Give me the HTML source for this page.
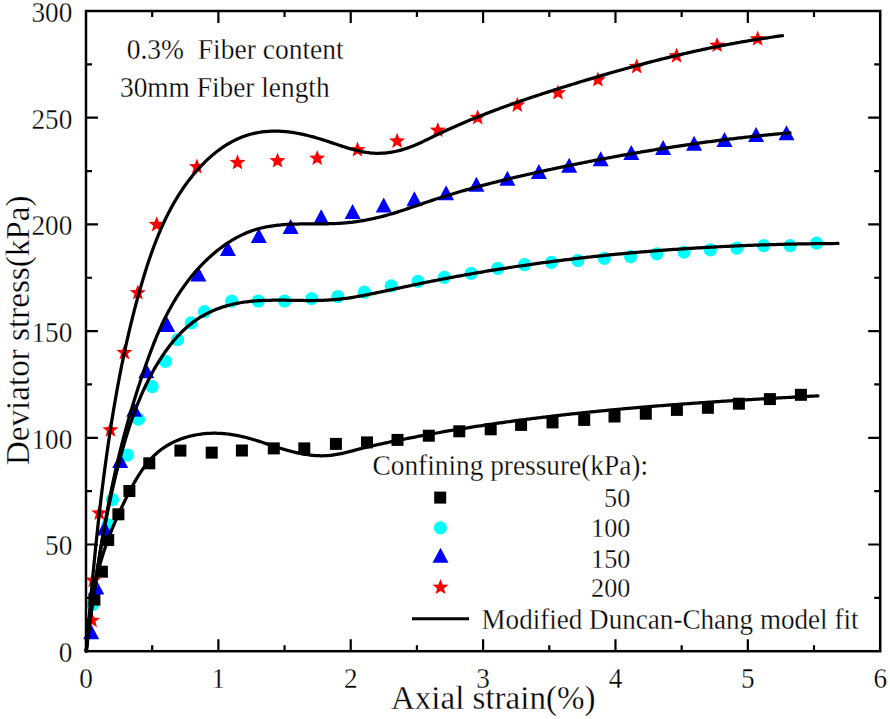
<!DOCTYPE html>
<html><head><meta charset="utf-8"><style>
html,body{margin:0;padding:0;background:#fff;width:890px;height:719px;overflow:hidden}
svg{display:block}
</style></head><body>
<svg width="890" height="719" viewBox="0 0 890 719">
<rect width="890" height="719" fill="#fff"/>
<g fill="#00ffff"><circle cx="92.50" cy="604.60" r="6.6"/><circle cx="108.00" cy="524.80" r="6.6"/><circle cx="112.50" cy="499.60" r="6.6"/><circle cx="127.30" cy="455.00" r="6.6"/><circle cx="138.40" cy="419.20" r="6.6"/><circle cx="152.20" cy="386.70" r="6.6"/><circle cx="165.50" cy="361.30" r="6.6"/><circle cx="177.60" cy="339.60" r="6.6"/><circle cx="191.20" cy="322.90" r="6.6"/><circle cx="204.50" cy="311.70" r="6.6"/><circle cx="231.70" cy="301.10" r="6.6"/><circle cx="258.30" cy="301.00" r="6.6"/><circle cx="284.60" cy="301.00" r="6.6"/><circle cx="311.70" cy="298.70" r="6.6"/><circle cx="337.80" cy="296.50" r="6.6"/><circle cx="364.40" cy="292.20" r="6.6"/><circle cx="391.20" cy="285.90" r="6.6"/><circle cx="418.00" cy="281.30" r="6.6"/><circle cx="444.40" cy="277.40" r="6.6"/><circle cx="471.20" cy="273.40" r="6.6"/><circle cx="497.70" cy="268.40" r="6.6"/><circle cx="524.50" cy="264.60" r="6.6"/><circle cx="551.40" cy="262.30" r="6.6"/><circle cx="577.90" cy="260.50" r="6.6"/><circle cx="604.30" cy="258.30" r="6.6"/><circle cx="630.60" cy="256.60" r="6.6"/><circle cx="656.80" cy="253.90" r="6.6"/><circle cx="684.00" cy="252.10" r="6.6"/><circle cx="710.30" cy="249.90" r="6.6"/><circle cx="736.90" cy="248.10" r="6.6"/><circle cx="763.70" cy="245.70" r="6.6"/><circle cx="790.10" cy="245.70" r="6.6"/><circle cx="816.60" cy="243.10" r="6.6"/></g>
<g fill="#000"><rect x="88.40" y="593.60" width="12.0" height="12.0"/><rect x="95.90" y="565.70" width="12.0" height="12.0"/><rect x="102.20" y="534.00" width="12.0" height="12.0"/><rect x="112.40" y="508.30" width="12.0" height="12.0"/><rect x="123.40" y="485.00" width="12.0" height="12.0"/><rect x="143.30" y="457.30" width="12.0" height="12.0"/><rect x="174.40" y="444.60" width="12.0" height="12.0"/><rect x="205.70" y="446.60" width="12.0" height="12.0"/><rect x="235.90" y="444.50" width="12.0" height="12.0"/><rect x="267.80" y="442.40" width="12.0" height="12.0"/><rect x="298.30" y="442.40" width="12.0" height="12.0"/><rect x="329.90" y="437.90" width="12.0" height="12.0"/><rect x="361.00" y="436.40" width="12.0" height="12.0"/><rect x="391.50" y="433.90" width="12.0" height="12.0"/><rect x="422.80" y="429.70" width="12.0" height="12.0"/><rect x="453.30" y="425.30" width="12.0" height="12.0"/><rect x="484.70" y="423.30" width="12.0" height="12.0"/><rect x="515.10" y="418.90" width="12.0" height="12.0"/><rect x="546.50" y="416.40" width="12.0" height="12.0"/><rect x="578.20" y="413.90" width="12.0" height="12.0"/><rect x="608.50" y="410.50" width="12.0" height="12.0"/><rect x="639.80" y="407.70" width="12.0" height="12.0"/><rect x="670.90" y="403.90" width="12.0" height="12.0"/><rect x="701.90" y="401.80" width="12.0" height="12.0"/><rect x="732.90" y="397.70" width="12.0" height="12.0"/><rect x="763.90" y="393.10" width="12.0" height="12.0"/><rect x="794.90" y="388.80" width="12.0" height="12.0"/></g>
<g fill="#0000ff"><polygon points="91.20,624.30 99.20,639.30 83.20,639.30"/><polygon points="96.30,579.50 104.30,594.50 88.30,594.50"/><polygon points="104.50,520.50 112.50,535.50 96.50,535.50"/><polygon points="120.20,453.00 128.20,468.00 112.20,468.00"/><polygon points="134.20,401.70 142.20,416.70 126.20,416.70"/><polygon points="146.30,363.20 154.30,378.20 138.30,378.20"/><polygon points="167.20,317.00 175.20,332.00 159.20,332.00"/><polygon points="198.40,266.40 206.40,281.40 190.40,281.40"/><polygon points="227.90,241.00 235.90,256.00 219.90,256.00"/><polygon points="258.80,228.00 266.80,243.00 250.80,243.00"/><polygon points="290.60,218.90 298.60,233.90 282.60,233.90"/><polygon points="321.20,209.30 329.20,224.30 313.20,224.30"/><polygon points="352.60,204.00 360.60,219.00 344.60,219.00"/><polygon points="383.70,197.50 391.70,212.50 375.70,212.50"/><polygon points="414.40,191.30 422.40,206.30 406.40,206.30"/><polygon points="446.10,185.30 454.10,200.30 438.10,200.30"/><polygon points="476.40,176.80 484.40,191.80 468.40,191.80"/><polygon points="507.40,170.70 515.40,185.70 499.40,185.70"/><polygon points="538.90,164.00 546.90,179.00 530.90,179.00"/><polygon points="569.20,157.70 577.20,172.70 561.20,172.70"/><polygon points="600.70,151.20 608.70,166.20 592.70,166.20"/><polygon points="631.30,144.90 639.30,159.90 623.30,159.90"/><polygon points="663.10,139.90 671.10,154.90 655.10,154.90"/><polygon points="694.10,135.80 702.10,150.80 686.10,150.80"/><polygon points="724.50,132.00 732.50,147.00 716.50,147.00"/><polygon points="756.10,127.00 764.10,142.00 748.10,142.00"/><polygon points="786.50,125.20 794.50,140.20 778.50,140.20"/></g>
<g fill="#ff0000"><polygon points="92.00,612.10 94.12,617.58 99.99,617.90 95.44,621.62 96.94,627.30 92.00,624.11 87.06,627.30 88.56,621.62 84.01,617.90 89.88,617.58"/><polygon points="93.20,572.00 95.32,577.48 101.19,577.80 96.64,581.52 98.14,587.20 93.20,584.01 88.26,587.20 89.76,581.52 85.21,577.80 91.08,577.48"/><polygon points="99.30,504.80 101.42,510.28 107.29,510.60 102.74,514.32 104.24,520.00 99.30,516.81 94.36,520.00 95.86,514.32 91.31,510.60 97.18,510.28"/><polygon points="110.40,421.60 112.52,427.08 118.39,427.40 113.84,431.12 115.34,436.80 110.40,433.61 105.46,436.80 106.96,431.12 102.41,427.40 108.28,427.08"/><polygon points="124.40,344.30 126.52,349.78 132.39,350.10 127.84,353.82 129.34,359.50 124.40,356.31 119.46,359.50 120.96,353.82 116.41,350.10 122.28,349.78"/><polygon points="137.80,284.40 139.92,289.88 145.79,290.20 141.24,293.92 142.74,299.60 137.80,296.41 132.86,299.60 134.36,293.92 129.81,290.20 135.68,289.88"/><polygon points="156.70,216.20 158.82,221.68 164.69,222.00 160.14,225.72 161.64,231.40 156.70,228.21 151.76,231.40 153.26,225.72 148.71,222.00 154.58,221.68"/><polygon points="196.90,158.40 199.02,163.88 204.89,164.20 200.34,167.92 201.84,173.60 196.90,170.41 191.96,173.60 193.46,167.92 188.91,164.20 194.78,163.88"/><polygon points="237.50,154.30 239.62,159.78 245.49,160.10 240.94,163.82 242.44,169.50 237.50,166.31 232.56,169.50 234.06,163.82 229.51,160.10 235.38,159.78"/><polygon points="277.50,152.40 279.62,157.88 285.49,158.20 280.94,161.92 282.44,167.60 277.50,164.41 272.56,167.60 274.06,161.92 269.51,158.20 275.38,157.88"/><polygon points="317.20,149.90 319.32,155.38 325.19,155.70 320.64,159.42 322.14,165.10 317.20,161.91 312.26,165.10 313.76,159.42 309.21,155.70 315.08,155.38"/><polygon points="357.50,141.40 359.62,146.88 365.49,147.20 360.94,150.92 362.44,156.60 357.50,153.41 352.56,156.60 354.06,150.92 349.51,147.20 355.38,146.88"/><polygon points="397.10,132.70 399.22,138.18 405.09,138.50 400.54,142.22 402.04,147.90 397.10,144.71 392.16,147.90 393.66,142.22 389.11,138.50 394.98,138.18"/><polygon points="437.80,121.90 439.92,127.38 445.79,127.70 441.24,131.42 442.74,137.10 437.80,133.91 432.86,137.10 434.36,131.42 429.81,127.70 435.68,127.38"/><polygon points="477.70,109.20 479.82,114.68 485.69,115.00 481.14,118.72 482.64,124.40 477.70,121.21 472.76,124.40 474.26,118.72 469.71,115.00 475.58,114.68"/><polygon points="517.30,96.70 519.42,102.18 525.29,102.50 520.74,106.22 522.24,111.90 517.30,108.71 512.36,111.90 513.86,106.22 509.31,102.50 515.18,102.18"/><polygon points="558.00,84.40 560.12,89.88 565.99,90.20 561.44,93.92 562.94,99.60 558.00,96.41 553.06,99.60 554.56,93.92 550.01,90.20 555.88,89.88"/><polygon points="597.90,71.40 600.02,76.88 605.89,77.20 601.34,80.92 602.84,86.60 597.90,83.41 592.96,86.60 594.46,80.92 589.91,77.20 595.78,76.88"/><polygon points="636.70,58.30 638.82,63.78 644.69,64.10 640.14,67.82 641.64,73.50 636.70,70.31 631.76,73.50 633.26,67.82 628.71,64.10 634.58,63.78"/><polygon points="676.60,47.50 678.72,52.98 684.59,53.30 680.04,57.02 681.54,62.70 676.60,59.51 671.66,62.70 673.16,57.02 668.61,53.30 674.48,52.98"/><polygon points="717.10,36.90 719.22,42.38 725.09,42.70 720.54,46.42 722.04,52.10 717.10,48.91 712.16,52.10 713.66,46.42 709.11,42.70 714.98,42.38"/><polygon points="757.70,30.60 759.82,36.08 765.69,36.40 761.14,40.12 762.64,45.80 757.70,42.61 752.76,45.80 754.26,40.12 749.71,36.40 755.58,36.08"/></g>
<g fill="none" stroke="#000" stroke-width="3.25" stroke-linecap="round" stroke-linejoin="round">
<path d="M86.31,651.03 L86.46,649.16 L86.61,647.30 L86.77,645.44 L86.92,643.58 L87.08,641.72 L87.23,639.86 L87.39,638.00 L87.54,636.14 L87.70,634.28 L87.85,632.42 L88.01,630.56 L88.17,628.70 L88.33,626.84 L88.48,624.98 L88.64,623.12 L88.80,621.26 L88.96,619.40 L89.12,617.54 L89.28,615.68 L89.44,613.82 L89.60,611.96 L89.77,610.10 L89.93,608.24 L90.09,606.38 L90.26,604.52 L90.42,602.66 L90.59,600.79 L90.75,598.93 L90.92,597.07 L91.08,595.21 L91.25,593.35 L91.42,591.49 L91.59,589.63 L91.76,587.78 L91.93,585.92 L92.10,584.06 L92.27,582.20 L92.45,580.34 L92.62,578.48 L92.79,576.62 L92.97,574.76 L93.14,572.90 L93.32,571.04 L93.50,569.18 L93.68,567.32 L93.86,565.46 L94.04,563.60 L94.22,561.74 L94.40,559.89 L94.58,558.03 L94.77,556.17 L94.95,554.31 L95.14,552.45 L95.33,550.59 L95.52,548.74 L95.70,546.88 L95.89,545.02 L96.09,543.16 L96.28,541.30 L96.47,539.45 L96.67,537.59 L96.86,535.73 L97.06,533.88 L97.26,532.02 L97.46,530.16 L97.66,528.31 L97.86,526.45 L98.06,524.59 L98.26,522.74 L98.47,520.88 L98.68,519.02 L98.88,517.17 L99.09,515.31 L99.30,513.46 L99.51,511.60 L99.73,509.75 L99.94,507.89 L100.16,506.04 L100.37,504.18 L100.59,502.33 L100.81,500.47 L101.03,498.62 L101.26,496.76 L101.48,494.91 L101.70,493.06 L101.93,491.20 L102.16,489.35 L102.39,487.50 L102.62,485.64 L102.85,483.79 L103.09,481.94 L103.32,480.09 L103.56,478.24 L103.80,476.38 L104.04,474.53 L104.28,472.68 L104.53,470.83 L104.77,468.98 L105.02,467.13 L105.27,465.28 L105.52,463.43 L105.77,461.58 L106.03,459.73 L106.28,457.88 L106.54,456.03 L106.80,454.18 L107.06,452.33 L107.32,450.48 L107.59,448.63 L107.85,446.79 L108.12,444.94 L108.39,443.09 L108.66,441.24 L108.93,439.40 L109.21,437.55 L109.49,435.70 L109.77,433.86 L110.05,432.01 L110.33,430.16 L110.62,428.32 L110.90,426.47 L111.19,424.63 L111.48,422.78 L111.78,420.94 L112.07,419.10 L112.37,417.25 L112.67,415.41 L112.97,413.57 L113.27,411.72 L113.58,409.88 L113.89,408.04 L114.20,406.20 L114.51,404.36 L114.83,402.52 L115.14,400.68 L115.46,398.84 L115.79,397.00 L116.11,395.16 L116.44,393.32 L116.77,391.48 L117.10,389.65 L117.43,387.81 L117.77,385.97 L118.11,384.14 L118.45,382.30 L118.80,380.47 L119.14,378.63 L119.49,376.80 L119.85,374.96 L120.20,373.13 L120.56,371.30 L120.92,369.47 L121.29,367.64 L121.65,365.81 L122.02,363.98 L122.40,362.15 L122.77,360.32 L123.15,358.49 L123.53,356.66 L123.92,354.84 L124.30,353.01 L124.69,351.19 L125.09,349.36 L125.48,347.54 L125.88,345.71 L126.29,343.89 L126.69,342.07 L127.10,340.25 L127.51,338.43 L127.93,336.61 L128.35,334.79 L128.77,332.97 L129.19,331.16 L129.62,329.34 L130.06,327.52 L130.49,325.71 L130.93,323.90 L131.37,322.08 L131.82,320.27 L132.27,318.46 L132.72,316.65 L133.18,314.84 L133.64,313.03 L134.10,311.22 L134.57,309.42 L135.04,307.61 L135.52,305.80 L135.99,304.00 L136.48,302.20 L136.96,300.40 L137.45,298.59 L137.95,296.79 L138.44,294.99 L138.95,293.20 L139.45,291.40 L139.96,289.60 L140.47,287.81 L140.99,286.01 L141.51,284.22 L142.04,282.43 L142.57,280.64 L143.10,278.85 L143.64,277.06 L144.18,275.27 L144.73,273.48 L145.28,271.70 L145.84,269.92 L146.40,268.14 L146.97,266.36 L147.55,264.58 L148.13,262.81 L148.72,261.04 L149.31,259.27 L149.92,257.50 L150.52,255.74 L151.14,253.98 L151.76,252.22 L152.39,250.46 L153.03,248.71 L153.68,246.96 L154.33,245.22 L154.99,243.47 L155.66,241.73 L156.34,240.00 L157.03,238.27 L157.73,236.54 L158.44,234.82 L159.15,233.10 L159.88,231.38 L160.62,229.67 L161.36,227.97 L162.12,226.26 L162.89,224.57 L163.66,222.87 L164.45,221.19 L165.25,219.50 L166.06,217.83 L166.89,216.15 L167.72,214.49 L168.57,212.83 L169.43,211.17 L170.30,209.52 L171.18,207.88 L172.07,206.24 L172.98,204.61 L173.90,202.99 L174.84,201.37 L175.79,199.76 L176.75,198.16 L177.72,196.57 L178.71,194.98 L179.71,193.41 L180.72,191.84 L181.75,190.28 L182.80,188.73 L183.85,187.19 L184.93,185.66 L186.01,184.15 L187.12,182.64 L188.23,181.14 L189.36,179.65 L190.51,178.18 L191.67,176.72 L192.85,175.26 L194.05,173.82 L195.26,172.40 L196.48,170.98 L197.72,169.58 L198.98,168.19 L200.26,166.82 L201.55,165.46 L202.86,164.11 L204.18,162.78 L205.52,161.46 L206.88,160.16 L208.26,158.88 L209.65,157.61 L211.05,156.37 L212.48,155.14 L213.92,153.93 L215.38,152.75 L216.85,151.59 L218.34,150.45 L219.84,149.34 L221.36,148.25 L222.90,147.19 L224.45,146.16 L226.02,145.15 L227.61,144.17 L229.20,143.23 L230.82,142.31 L232.45,141.42 L234.09,140.57 L235.76,139.75 L237.43,138.97 L239.12,138.22 L240.83,137.50 L242.55,136.83 L244.28,136.19 L246.03,135.59 L247.80,135.03 L249.58,134.51 L251.37,134.03 L253.18,133.58 L254.99,133.18 L256.82,132.82 L258.65,132.49 L260.50,132.20 L262.35,131.95 L264.21,131.73 L266.07,131.55 L267.93,131.40 L269.80,131.29 L271.67,131.21 L273.54,131.16 L275.41,131.15 L277.28,131.17 L279.15,131.22 L281.01,131.30 L282.87,131.42 L284.72,131.56 L286.58,131.73 L288.42,131.93 L290.27,132.16 L292.11,132.41 L293.95,132.69 L295.79,132.99 L297.62,133.32 L299.45,133.67 L301.28,134.04 L303.10,134.43 L304.93,134.85 L306.75,135.28 L308.57,135.73 L310.39,136.20 L312.20,136.68 L314.02,137.18 L315.83,137.70 L317.65,138.23 L319.46,138.77 L321.27,139.32 L323.08,139.89 L324.89,140.47 L326.69,141.05 L328.50,141.65 L330.31,142.25 L332.12,142.86 L333.93,143.47 L335.73,144.08 L337.54,144.69 L339.35,145.29 L341.16,145.89 L342.96,146.48 L344.77,147.06 L346.58,147.63 L348.39,148.19 L350.19,148.72 L352.00,149.24 L353.81,149.74 L355.62,150.21 L357.43,150.66 L359.24,151.08 L361.05,151.47 L362.87,151.83 L364.68,152.15 L366.49,152.44 L368.31,152.69 L370.12,152.90 L371.94,153.07 L373.76,153.19 L375.57,153.27 L377.39,153.31 L379.21,153.30 L381.03,153.24 L382.84,153.15 L384.66,153.02 L386.47,152.84 L388.28,152.63 L390.09,152.37 L391.89,152.08 L393.69,151.75 L395.49,151.39 L397.28,150.99 L399.07,150.55 L400.85,150.08 L402.62,149.58 L404.39,149.04 L406.15,148.47 L407.91,147.88 L409.65,147.25 L411.39,146.59 L413.12,145.91 L414.85,145.20 L416.57,144.47 L418.28,143.72 L419.99,142.96 L421.70,142.18 L423.40,141.38 L425.10,140.58 L426.80,139.77 L428.49,138.95 L430.19,138.12 L431.88,137.30 L433.57,136.47 L435.27,135.65 L436.96,134.83 L438.66,134.02 L440.35,133.21 L442.05,132.41 L443.75,131.62 L445.45,130.83 L447.15,130.04 L448.86,129.26 L450.57,128.49 L452.27,127.72 L453.99,126.96 L455.70,126.20 L457.41,125.44 L459.13,124.70 L460.85,123.95 L462.57,123.21 L464.29,122.48 L466.01,121.75 L467.73,121.03 L469.46,120.31 L471.19,119.60 L472.92,118.89 L474.65,118.18 L476.38,117.48 L478.11,116.78 L479.85,116.09 L481.59,115.41 L483.33,114.72 L485.07,114.04 L486.81,113.37 L488.55,112.70 L490.29,112.03 L492.04,111.37 L493.79,110.71 L495.53,110.05 L497.28,109.40 L499.03,108.75 L500.79,108.10 L502.54,107.46 L504.29,106.83 L506.05,106.19 L507.80,105.56 L509.56,104.93 L511.32,104.31 L513.08,103.69 L514.84,103.07 L516.60,102.45 L518.37,101.84 L520.13,101.23 L521.90,100.63 L523.66,100.02 L525.43,99.42 L527.20,98.82 L528.97,98.23 L530.74,97.63 L532.51,97.04 L534.28,96.45 L536.05,95.87 L537.82,95.28 L539.60,94.70 L541.37,94.12 L543.15,93.55 L544.92,92.97 L546.70,92.40 L548.48,91.83 L550.26,91.26 L552.03,90.69 L553.81,90.12 L555.59,89.56 L557.37,89.00 L559.15,88.43 L560.94,87.88 L562.72,87.32 L564.50,86.76 L566.28,86.20 L568.07,85.65 L569.85,85.10 L571.63,84.55 L573.42,84.00 L575.20,83.45 L576.99,82.90 L578.78,82.35 L580.56,81.81 L582.35,81.26 L584.14,80.72 L585.93,80.18 L587.71,79.64 L589.50,79.11 L591.29,78.57 L593.08,78.04 L594.87,77.51 L596.66,76.97 L598.45,76.45 L600.25,75.92 L602.04,75.39 L603.83,74.87 L605.62,74.35 L607.42,73.83 L609.21,73.31 L611.01,72.79 L612.80,72.28 L614.60,71.77 L616.40,71.25 L618.19,70.75 L619.99,70.24 L621.79,69.73 L623.59,69.23 L625.39,68.73 L627.19,68.23 L628.99,67.73 L630.79,67.24 L632.59,66.75 L634.39,66.26 L636.19,65.77 L638.00,65.28 L639.80,64.80 L641.60,64.32 L643.41,63.84 L645.21,63.36 L647.02,62.88 L648.83,62.41 L650.63,61.94 L652.44,61.47 L654.25,61.01 L656.06,60.55 L657.87,60.08 L659.68,59.63 L661.49,59.17 L663.30,58.72 L665.11,58.27 L666.92,57.82 L668.74,57.37 L670.55,56.93 L672.36,56.49 L674.18,56.05 L675.99,55.62 L677.81,55.19 L679.63,54.76 L681.44,54.33 L683.26,53.91 L685.08,53.48 L686.90,53.07 L688.72,52.65 L690.54,52.24 L692.36,51.83 L694.18,51.42 L696.01,51.02 L697.83,50.62 L699.65,50.22 L701.48,49.82 L703.30,49.43 L705.13,49.04 L706.95,48.65 L708.78,48.27 L710.61,47.89 L712.44,47.51 L714.27,47.14 L716.10,46.77 L717.93,46.40 L719.76,46.04 L721.59,45.68 L723.42,45.32 L725.26,44.97 L727.09,44.62 L728.93,44.27 L730.76,43.92 L732.60,43.58 L734.43,43.25 L736.27,42.91 L738.11,42.58 L739.95,42.25 L741.79,41.93 L743.63,41.61 L745.47,41.29 L747.31,40.98 L749.16,40.67 L751.00,40.37 L752.84,40.06 L754.69,39.76 L756.53,39.47 L758.38,39.18 L760.23,38.89 L762.07,38.61 L763.92,38.33 L765.77,38.05 L767.62,37.78 L769.47,37.51 L771.33,37.25 L773.18,36.99 L775.03,36.73 L776.89,36.48 L778.74,36.23 L780.60,35.98 L782.45,35.74"/>
<path d="M86.14,651.01 L86.35,649.32 L86.57,647.64 L86.79,645.95 L87.01,644.27 L87.22,642.58 L87.44,640.90 L87.66,639.21 L87.88,637.53 L88.10,635.84 L88.32,634.16 L88.54,632.47 L88.76,630.78 L88.98,629.10 L89.21,627.41 L89.43,625.73 L89.65,624.04 L89.88,622.36 L90.10,620.67 L90.33,618.98 L90.55,617.30 L90.78,615.61 L91.00,613.93 L91.23,612.24 L91.46,610.56 L91.69,608.87 L91.92,607.18 L92.15,605.50 L92.38,603.81 L92.62,602.13 L92.85,600.44 L93.09,598.76 L93.32,597.07 L93.56,595.39 L93.80,593.70 L94.03,592.02 L94.27,590.33 L94.51,588.65 L94.76,586.96 L95.00,585.28 L95.24,583.60 L95.49,581.91 L95.73,580.23 L95.98,578.54 L96.23,576.86 L96.48,575.18 L96.73,573.49 L96.98,571.81 L97.24,570.13 L97.49,568.45 L97.75,566.76 L98.01,565.08 L98.27,563.40 L98.53,561.72 L98.79,560.04 L99.05,558.36 L99.32,556.67 L99.59,554.99 L99.85,553.31 L100.12,551.63 L100.39,549.95 L100.67,548.27 L100.94,546.60 L101.22,544.92 L101.50,543.24 L101.78,541.56 L102.06,539.88 L102.34,538.20 L102.62,536.53 L102.91,534.85 L103.20,533.17 L103.49,531.50 L103.78,529.82 L104.08,528.15 L104.37,526.47 L104.67,524.80 L104.97,523.12 L105.27,521.45 L105.57,519.77 L105.88,518.10 L106.19,516.43 L106.50,514.76 L106.81,513.08 L107.12,511.41 L107.44,509.74 L107.76,508.07 L108.08,506.40 L108.40,504.73 L108.72,503.06 L109.05,501.39 L109.38,499.73 L109.71,498.06 L110.04,496.39 L110.38,494.72 L110.72,493.06 L111.06,491.39 L111.40,489.73 L111.75,488.06 L112.10,486.40 L112.45,484.73 L112.80,483.07 L113.16,481.41 L113.51,479.75 L113.87,478.09 L114.24,476.43 L114.60,474.77 L114.97,473.11 L115.34,471.45 L115.72,469.79 L116.09,468.13 L116.47,466.47 L116.85,464.82 L117.24,463.16 L117.62,461.51 L118.01,459.85 L118.41,458.20 L118.80,456.55 L119.20,454.89 L119.60,453.24 L120.01,451.59 L120.41,449.94 L120.83,448.29 L121.24,446.64 L121.65,444.99 L122.07,443.34 L122.50,441.70 L122.92,440.05 L123.35,438.41 L123.78,436.76 L124.22,435.12 L124.65,433.47 L125.10,431.83 L125.54,430.19 L125.99,428.55 L126.44,426.91 L126.89,425.27 L127.35,423.63 L127.81,421.99 L128.27,420.36 L128.74,418.72 L129.21,417.09 L129.68,415.45 L130.16,413.82 L130.64,412.18 L131.12,410.55 L131.60,408.92 L132.09,407.29 L132.58,405.66 L133.08,404.03 L133.57,402.41 L134.07,400.78 L134.57,399.16 L135.08,397.53 L135.59,395.91 L136.10,394.28 L136.61,392.66 L137.13,391.04 L137.65,389.42 L138.17,387.80 L138.69,386.18 L139.22,384.57 L139.75,382.95 L140.28,381.34 L140.82,379.72 L141.35,378.11 L141.89,376.50 L142.44,374.89 L142.98,373.28 L143.53,371.67 L144.08,370.06 L144.63,368.46 L145.19,366.85 L145.75,365.25 L146.31,363.64 L146.87,362.04 L147.44,360.44 L148.02,358.84 L148.59,357.25 L149.17,355.65 L149.76,354.06 L150.35,352.47 L150.94,350.88 L151.54,349.30 L152.15,347.71 L152.76,346.13 L153.37,344.55 L154.00,342.98 L154.62,341.40 L155.26,339.83 L155.90,338.26 L156.55,336.70 L157.21,335.14 L157.87,333.58 L158.54,332.02 L159.22,330.47 L159.91,328.92 L160.60,327.38 L161.31,325.84 L162.02,324.30 L162.74,322.77 L163.47,321.24 L164.21,319.71 L164.96,318.19 L165.72,316.68 L166.49,315.16 L167.27,313.66 L168.06,312.15 L168.86,310.66 L169.67,309.16 L170.49,307.67 L171.32,306.19 L172.16,304.72 L173.01,303.24 L173.88,301.78 L174.75,300.32 L175.63,298.87 L176.53,297.42 L177.44,295.98 L178.35,294.55 L179.28,293.12 L180.22,291.70 L181.17,290.29 L182.14,288.89 L183.11,287.49 L184.10,286.10 L185.09,284.72 L186.10,283.35 L187.12,281.98 L188.16,280.63 L189.20,279.28 L190.26,277.94 L191.33,276.61 L192.41,275.29 L193.50,273.98 L194.61,272.68 L195.72,271.39 L196.85,270.10 L198.00,268.83 L199.15,267.57 L200.32,266.32 L201.50,265.08 L202.69,263.85 L203.90,262.63 L205.12,261.42 L206.35,260.22 L207.60,259.03 L208.85,257.86 L210.13,256.70 L211.41,255.55 L212.70,254.42 L214.01,253.29 L215.33,252.19 L216.67,251.10 L218.01,250.02 L219.37,248.96 L220.73,247.92 L222.11,246.89 L223.50,245.88 L224.90,244.89 L226.31,243.92 L227.73,242.97 L229.17,242.04 L230.61,241.13 L232.06,240.24 L233.53,239.37 L235.00,238.52 L236.48,237.70 L237.97,236.90 L239.48,236.12 L240.99,235.37 L242.51,234.64 L244.04,233.93 L245.58,233.25 L247.12,232.60 L248.68,231.98 L250.24,231.38 L251.81,230.81 L253.39,230.27 L254.98,229.75 L256.57,229.27 L258.18,228.81 L259.78,228.38 L261.40,227.98 L263.02,227.60 L264.65,227.24 L266.29,226.91 L267.93,226.61 L269.58,226.32 L271.23,226.05 L272.89,225.81 L274.56,225.58 L276.23,225.38 L277.90,225.19 L279.58,225.01 L281.26,224.86 L282.95,224.72 L284.64,224.59 L286.34,224.48 L288.03,224.38 L289.74,224.29 L291.44,224.22 L293.15,224.15 L294.86,224.09 L296.57,224.05 L298.29,224.01 L300.00,223.97 L301.72,223.95 L303.44,223.93 L305.16,223.91 L306.89,223.90 L308.61,223.89 L310.33,223.88 L312.06,223.88 L313.78,223.87 L315.51,223.87 L317.23,223.86 L318.96,223.86 L320.68,223.85 L322.40,223.83 L324.12,223.81 L325.84,223.79 L327.56,223.76 L329.28,223.72 L330.99,223.68 L332.71,223.63 L334.42,223.57 L336.12,223.50 L337.83,223.41 L339.53,223.32 L341.23,223.21 L342.93,223.09 L344.62,222.96 L346.31,222.81 L347.99,222.65 L349.67,222.47 L351.35,222.29 L353.02,222.08 L354.69,221.87 L356.36,221.64 L358.03,221.40 L359.69,221.14 L361.35,220.88 L363.01,220.60 L364.66,220.31 L366.31,220.00 L367.96,219.69 L369.61,219.36 L371.25,219.02 L372.90,218.66 L374.54,218.30 L376.17,217.93 L377.81,217.54 L379.44,217.14 L381.08,216.73 L382.71,216.31 L384.34,215.88 L385.96,215.44 L387.59,214.99 L389.21,214.52 L390.83,214.05 L392.46,213.57 L394.08,213.08 L395.70,212.58 L397.31,212.08 L398.93,211.56 L400.55,211.04 L402.16,210.52 L403.78,209.99 L405.40,209.45 L407.01,208.91 L408.62,208.36 L410.24,207.82 L411.85,207.27 L413.46,206.71 L415.08,206.16 L416.69,205.60 L418.31,205.05 L419.92,204.49 L421.54,203.94 L423.15,203.38 L424.77,202.83 L426.38,202.28 L428.00,201.73 L429.62,201.18 L431.24,200.64 L432.86,200.11 L434.48,199.57 L436.10,199.04 L437.72,198.52 L439.35,198.00 L440.97,197.48 L442.60,196.96 L444.22,196.45 L445.85,195.94 L447.48,195.44 L449.11,194.94 L450.74,194.44 L452.37,193.95 L454.00,193.46 L455.63,192.97 L457.26,192.49 L458.90,192.01 L460.53,191.53 L462.17,191.06 L463.80,190.59 L465.44,190.12 L467.08,189.66 L468.72,189.20 L470.36,188.74 L472.00,188.29 L473.64,187.84 L475.28,187.39 L476.92,186.94 L478.56,186.50 L480.21,186.06 L481.85,185.62 L483.50,185.18 L485.14,184.75 L486.79,184.32 L488.43,183.90 L490.08,183.47 L491.73,183.05 L493.38,182.63 L495.03,182.21 L496.68,181.80 L498.33,181.39 L499.98,180.98 L501.63,180.57 L503.28,180.17 L504.93,179.76 L506.59,179.36 L508.24,178.96 L509.89,178.57 L511.55,178.17 L513.20,177.78 L514.86,177.39 L516.52,177.00 L518.17,176.62 L519.83,176.23 L521.49,175.85 L523.14,175.47 L524.80,175.09 L526.46,174.72 L528.12,174.34 L529.78,173.97 L531.44,173.59 L533.10,173.22 L534.76,172.86 L536.42,172.49 L538.08,172.12 L539.74,171.76 L541.40,171.40 L543.07,171.04 L544.73,170.68 L546.39,170.32 L548.05,169.96 L549.72,169.60 L551.38,169.25 L553.04,168.89 L554.71,168.54 L556.37,168.19 L558.04,167.84 L559.70,167.49 L561.37,167.14 L563.03,166.80 L564.70,166.45 L566.36,166.11 L568.03,165.76 L569.70,165.42 L571.36,165.08 L573.03,164.74 L574.70,164.41 L576.36,164.07 L578.03,163.73 L579.70,163.40 L581.37,163.07 L583.04,162.74 L584.70,162.40 L586.37,162.08 L588.04,161.75 L589.71,161.42 L591.38,161.10 L593.05,160.77 L594.72,160.45 L596.39,160.13 L598.06,159.81 L599.73,159.49 L601.40,159.17 L603.07,158.86 L604.75,158.54 L606.42,158.23 L608.09,157.92 L609.76,157.60 L611.44,157.30 L613.11,156.99 L614.78,156.68 L616.45,156.38 L618.13,156.07 L619.80,155.77 L621.48,155.47 L623.15,155.17 L624.82,154.87 L626.50,154.57 L628.17,154.27 L629.85,153.98 L631.52,153.69 L633.20,153.40 L634.88,153.10 L636.55,152.82 L638.23,152.53 L639.91,152.24 L641.58,151.96 L643.26,151.67 L644.94,151.39 L646.61,151.11 L648.29,150.83 L649.97,150.55 L651.65,150.28 L653.33,150.00 L655.01,149.73 L656.69,149.46 L658.36,149.19 L660.04,148.92 L661.72,148.65 L663.40,148.38 L665.08,148.12 L666.76,147.86 L668.45,147.59 L670.13,147.33 L671.81,147.07 L673.49,146.82 L675.17,146.56 L676.85,146.31 L678.53,146.05 L680.22,145.80 L681.90,145.55 L683.58,145.30 L685.26,145.06 L686.95,144.81 L688.63,144.57 L690.31,144.32 L692.00,144.08 L693.68,143.84 L695.37,143.61 L697.05,143.37 L698.74,143.13 L700.42,142.90 L702.11,142.67 L703.79,142.44 L705.48,142.21 L707.16,141.98 L708.85,141.76 L710.53,141.53 L712.22,141.31 L713.91,141.09 L715.59,140.87 L717.28,140.65 L718.97,140.44 L720.66,140.22 L722.34,140.01 L724.03,139.80 L725.72,139.59 L727.41,139.38 L729.10,139.18 L730.79,138.97 L732.48,138.77 L734.16,138.57 L735.85,138.37 L737.54,138.17 L739.23,137.97 L740.92,137.78 L742.61,137.58 L744.30,137.39 L746.00,137.20 L747.69,137.01 L749.38,136.82 L751.07,136.64 L752.76,136.46 L754.45,136.27 L756.14,136.09 L757.84,135.91 L759.53,135.74 L761.22,135.56 L762.91,135.39 L764.61,135.22 L766.30,135.05 L767.99,134.88 L769.69,134.71 L771.38,134.55 L773.08,134.38 L774.77,134.22 L776.46,134.06 L778.16,133.90 L779.85,133.75 L781.55,133.59 L783.24,133.44 L784.94,133.29 L786.63,133.14 L788.33,132.99 L790.03,132.84"/>
<path d="M86.14,651.10 L86.35,649.42 L86.56,647.74 L86.78,646.06 L86.99,644.39 L87.21,642.71 L87.42,641.03 L87.64,639.36 L87.86,637.68 L88.07,636.01 L88.29,634.33 L88.51,632.66 L88.73,630.98 L88.95,629.31 L89.17,627.64 L89.39,625.97 L89.61,624.29 L89.83,622.62 L90.05,620.95 L90.27,619.28 L90.50,617.61 L90.72,615.94 L90.94,614.27 L91.17,612.60 L91.40,610.93 L91.62,609.27 L91.85,607.60 L92.08,605.93 L92.31,604.26 L92.54,602.60 L92.78,600.93 L93.01,599.26 L93.25,597.60 L93.48,595.93 L93.72,594.27 L93.96,592.61 L94.20,590.94 L94.44,589.28 L94.68,587.62 L94.92,585.96 L95.17,584.29 L95.41,582.63 L95.66,580.97 L95.91,579.31 L96.16,577.65 L96.41,575.99 L96.66,574.33 L96.92,572.67 L97.17,571.01 L97.43,569.36 L97.69,567.70 L97.95,566.04 L98.21,564.39 L98.48,562.73 L98.74,561.07 L99.01,559.42 L99.28,557.76 L99.55,556.11 L99.83,554.46 L100.10,552.80 L100.38,551.15 L100.66,549.50 L100.94,547.84 L101.22,546.19 L101.51,544.54 L101.79,542.89 L102.08,541.24 L102.37,539.59 L102.67,537.94 L102.96,536.29 L103.26,534.64 L103.56,532.99 L103.86,531.35 L104.17,529.70 L104.47,528.05 L104.78,526.41 L105.09,524.76 L105.41,523.12 L105.72,521.47 L106.04,519.83 L106.37,518.18 L106.69,516.54 L107.02,514.90 L107.34,513.25 L107.68,511.61 L108.01,509.97 L108.35,508.33 L108.69,506.69 L109.03,505.05 L109.37,503.41 L109.72,501.77 L110.07,500.13 L110.43,498.49 L110.78,496.85 L111.14,495.21 L111.51,493.58 L111.87,491.94 L112.24,490.30 L112.61,488.67 L112.98,487.03 L113.36,485.40 L113.74,483.76 L114.13,482.13 L114.51,480.50 L114.90,478.86 L115.30,477.23 L115.69,475.60 L116.09,473.97 L116.49,472.34 L116.90,470.71 L117.31,469.08 L117.72,467.45 L118.14,465.82 L118.56,464.19 L118.98,462.56 L119.41,460.93 L119.84,459.31 L120.27,457.68 L120.71,456.05 L121.15,454.43 L121.60,452.80 L122.05,451.18 L122.50,449.55 L122.96,447.93 L123.42,446.31 L123.88,444.69 L124.35,443.07 L124.83,441.45 L125.31,439.83 L125.79,438.21 L126.28,436.60 L126.77,434.99 L127.27,433.37 L127.78,431.76 L128.29,430.15 L128.80,428.55 L129.33,426.94 L129.85,425.34 L130.39,423.74 L130.93,422.14 L131.47,420.55 L132.03,418.95 L132.58,417.36 L133.15,415.78 L133.72,414.19 L134.30,412.61 L134.89,411.03 L135.48,409.45 L136.08,407.88 L136.69,406.31 L137.31,404.74 L137.93,403.18 L138.56,401.62 L139.20,400.06 L139.85,398.51 L140.50,396.96 L141.17,395.41 L141.84,393.87 L142.52,392.33 L143.21,390.80 L143.91,389.27 L144.62,387.75 L145.33,386.22 L146.06,384.71 L146.80,383.20 L147.54,381.69 L148.30,380.19 L149.06,378.69 L149.83,377.20 L150.62,375.71 L151.41,374.23 L152.22,372.75 L153.03,371.28 L153.86,369.81 L154.69,368.35 L155.54,366.89 L156.40,365.44 L157.27,364.00 L158.15,362.56 L159.04,361.13 L159.94,359.70 L160.86,358.28 L161.78,356.86 L162.72,355.46 L163.67,354.05 L164.63,352.66 L165.61,351.28 L166.59,349.90 L167.59,348.54 L168.61,347.18 L169.63,345.84 L170.67,344.50 L171.72,343.18 L172.79,341.87 L173.87,340.58 L174.96,339.29 L176.07,338.03 L177.19,336.77 L178.33,335.54 L179.48,334.32 L180.64,333.11 L181.82,331.93 L183.02,330.76 L184.23,329.61 L185.45,328.48 L186.69,327.37 L187.95,326.28 L189.23,325.21 L190.51,324.16 L191.82,323.14 L193.14,322.13 L194.48,321.16 L195.83,320.20 L197.21,319.27 L198.59,318.36 L200.00,317.48 L201.41,316.62 L202.85,315.79 L204.29,314.98 L205.75,314.19 L207.22,313.42 L208.71,312.68 L210.20,311.97 L211.71,311.28 L213.23,310.61 L214.76,309.96 L216.30,309.34 L217.84,308.74 L219.40,308.16 L220.97,307.61 L222.54,307.08 L224.12,306.58 L225.71,306.09 L227.30,305.63 L228.91,305.20 L230.51,304.78 L232.12,304.39 L233.74,304.02 L235.36,303.67 L236.99,303.34 L238.62,303.04 L240.25,302.75 L241.89,302.48 L243.54,302.23 L245.18,302.00 L246.84,301.79 L248.49,301.59 L250.15,301.41 L251.81,301.24 L253.48,301.09 L255.15,300.95 L256.82,300.83 L258.50,300.72 L260.18,300.62 L261.86,300.53 L263.54,300.46 L265.23,300.40 L266.92,300.34 L268.61,300.30 L270.30,300.26 L272.00,300.23 L273.69,300.21 L275.39,300.20 L277.09,300.20 L278.79,300.20 L280.49,300.20 L282.20,300.21 L283.90,300.23 L285.61,300.24 L287.31,300.26 L289.02,300.29 L290.73,300.31 L292.43,300.34 L294.14,300.36 L295.85,300.39 L297.56,300.41 L299.26,300.44 L300.97,300.46 L302.67,300.48 L304.38,300.50 L306.08,300.51 L307.79,300.52 L309.49,300.52 L311.19,300.52 L312.89,300.51 L314.59,300.50 L316.28,300.48 L317.98,300.45 L319.67,300.41 L321.36,300.37 L323.05,300.31 L324.74,300.24 L326.42,300.17 L328.10,300.08 L329.78,299.98 L331.46,299.86 L333.13,299.74 L334.80,299.60 L336.47,299.44 L338.13,299.28 L339.79,299.10 L341.45,298.91 L343.11,298.71 L344.76,298.49 L346.41,298.27 L348.06,298.04 L349.71,297.79 L351.36,297.54 L353.00,297.28 L354.64,297.01 L356.29,296.73 L357.93,296.45 L359.57,296.16 L361.20,295.86 L362.84,295.56 L364.48,295.25 L366.12,294.93 L367.75,294.61 L369.39,294.28 L371.03,293.96 L372.66,293.62 L374.30,293.29 L375.94,292.95 L377.57,292.61 L379.21,292.27 L380.85,291.92 L382.49,291.58 L384.13,291.23 L385.77,290.89 L387.41,290.54 L389.05,290.19 L390.69,289.84 L392.34,289.49 L393.98,289.14 L395.62,288.78 L397.27,288.43 L398.91,288.08 L400.56,287.73 L402.20,287.37 L403.85,287.02 L405.49,286.67 L407.14,286.32 L408.79,285.97 L410.43,285.62 L412.08,285.27 L413.73,284.92 L415.38,284.58 L417.03,284.23 L418.68,283.89 L420.33,283.55 L421.97,283.21 L423.62,282.87 L425.27,282.53 L426.92,282.20 L428.58,281.86 L430.23,281.53 L431.88,281.20 L433.53,280.87 L435.18,280.55 L436.83,280.22 L438.48,279.90 L440.14,279.57 L441.79,279.25 L443.44,278.94 L445.09,278.62 L446.75,278.30 L448.40,277.99 L450.05,277.68 L451.71,277.37 L453.36,277.06 L455.02,276.75 L456.67,276.45 L458.33,276.14 L459.98,275.84 L461.64,275.54 L463.29,275.24 L464.95,274.94 L466.60,274.65 L468.26,274.35 L469.92,274.06 L471.57,273.77 L473.23,273.48 L474.89,273.19 L476.55,272.90 L478.20,272.62 L479.86,272.34 L481.52,272.06 L483.18,271.78 L484.84,271.50 L486.50,271.22 L488.15,270.94 L489.81,270.67 L491.47,270.40 L493.13,270.13 L494.79,269.86 L496.45,269.59 L498.11,269.33 L499.77,269.06 L501.43,268.80 L503.10,268.54 L504.76,268.28 L506.42,268.02 L508.08,267.76 L509.74,267.51 L511.40,267.26 L513.07,267.00 L514.73,266.75 L516.39,266.50 L518.05,266.26 L519.72,266.01 L521.38,265.77 L523.04,265.52 L524.71,265.28 L526.37,265.04 L528.03,264.80 L529.70,264.57 L531.36,264.33 L533.03,264.10 L534.69,263.86 L536.36,263.63 L538.02,263.40 L539.69,263.18 L541.35,262.95 L543.02,262.73 L544.68,262.50 L546.35,262.28 L548.02,262.06 L549.68,261.84 L551.35,261.62 L553.02,261.41 L554.68,261.19 L556.35,260.98 L558.02,260.77 L559.68,260.56 L561.35,260.35 L563.02,260.14 L564.69,259.93 L566.36,259.73 L568.02,259.53 L569.69,259.32 L571.36,259.12 L573.03,258.92 L574.70,258.73 L576.37,258.53 L578.04,258.34 L579.71,258.14 L581.38,257.95 L583.05,257.76 L584.71,257.57 L586.38,257.38 L588.06,257.20 L589.73,257.01 L591.40,256.83 L593.07,256.65 L594.74,256.47 L596.41,256.29 L598.08,256.11 L599.75,255.93 L601.42,255.76 L603.09,255.59 L604.76,255.41 L606.44,255.24 L608.11,255.07 L609.78,254.90 L611.45,254.74 L613.13,254.57 L614.80,254.41 L616.47,254.24 L618.14,254.08 L619.82,253.92 L621.49,253.76 L623.16,253.61 L624.83,253.45 L626.51,253.30 L628.18,253.14 L629.86,252.99 L631.53,252.84 L633.20,252.69 L634.88,252.54 L636.55,252.39 L638.23,252.25 L639.90,252.10 L641.57,251.96 L643.25,251.82 L644.92,251.68 L646.60,251.54 L648.27,251.40 L649.95,251.27 L651.62,251.13 L653.30,251.00 L654.97,250.86 L656.65,250.73 L658.33,250.60 L660.00,250.47 L661.68,250.35 L663.35,250.22 L665.03,250.10 L666.70,249.97 L668.38,249.85 L670.06,249.73 L671.73,249.61 L673.41,249.49 L675.09,249.37 L676.76,249.26 L678.44,249.14 L680.12,249.03 L681.79,248.92 L683.47,248.80 L685.15,248.69 L686.83,248.59 L688.50,248.48 L690.18,248.37 L691.86,248.27 L693.54,248.16 L695.21,248.06 L696.89,247.96 L698.57,247.86 L700.25,247.76 L701.92,247.66 L703.60,247.57 L705.28,247.47 L706.96,247.38 L708.64,247.28 L710.32,247.19 L711.99,247.10 L713.67,247.01 L715.35,246.92 L717.03,246.84 L718.71,246.75 L720.39,246.66 L722.07,246.58 L723.75,246.50 L725.42,246.42 L727.10,246.34 L728.78,246.26 L730.46,246.18 L732.14,246.10 L733.82,246.03 L735.50,245.95 L737.18,245.88 L738.86,245.81 L740.54,245.74 L742.22,245.67 L743.90,245.60 L745.58,245.53 L747.26,245.47 L748.94,245.40 L750.62,245.34 L752.30,245.27 L753.98,245.21 L755.66,245.15 L757.34,245.09 L759.02,245.03 L760.70,244.98 L762.38,244.92 L764.06,244.86 L765.74,244.81 L767.42,244.76 L769.10,244.70 L770.78,244.65 L772.46,244.60 L774.14,244.56 L775.82,244.51 L777.50,244.46 L779.18,244.42 L780.86,244.37 L782.54,244.33 L784.22,244.29 L785.90,244.24 L787.58,244.20 L789.26,244.16 L790.94,244.13 L792.62,244.09 L794.30,244.05 L795.99,244.02 L797.67,243.98 L799.35,243.95 L801.03,243.92 L802.71,243.89 L804.39,243.86 L806.07,243.83 L807.75,243.80 L809.43,243.78 L811.11,243.75 L812.79,243.73 L814.47,243.70 L816.15,243.68 L817.83,243.66 L819.52,243.64 L821.20,243.62 L822.88,243.60 L824.56,243.58 L826.24,243.57 L827.92,243.55 L829.60,243.53 L831.28,243.52 L832.96,243.51 L834.64,243.50 L836.32,243.49 L838.00,243.48"/>
<path d="M86.49,650.04 L86.60,648.56 L86.72,647.09 L86.83,645.61 L86.95,644.13 L87.07,642.65 L87.20,641.17 L87.33,639.69 L87.46,638.21 L87.59,636.74 L87.73,635.26 L87.87,633.78 L88.02,632.30 L88.17,630.83 L88.32,629.35 L88.48,627.87 L88.64,626.40 L88.81,624.92 L88.97,623.45 L89.15,621.97 L89.32,620.50 L89.51,619.03 L89.69,617.56 L89.88,616.09 L90.08,614.62 L90.27,613.15 L90.48,611.68 L90.69,610.21 L90.90,608.74 L91.12,607.28 L91.34,605.81 L91.57,604.35 L91.80,602.89 L92.03,601.43 L92.28,599.97 L92.52,598.51 L92.77,597.05 L93.03,595.59 L93.29,594.14 L93.56,592.68 L93.83,591.23 L94.11,589.78 L94.40,588.33 L94.69,586.88 L94.98,585.44 L95.28,583.99 L95.59,582.55 L95.90,581.11 L96.22,579.67 L96.55,578.23 L96.88,576.79 L97.21,575.36 L97.56,573.93 L97.91,572.50 L98.26,571.07 L98.62,569.64 L98.99,568.21 L99.37,566.79 L99.75,565.37 L100.13,563.95 L100.53,562.54 L100.93,561.12 L101.34,559.71 L101.75,558.30 L102.17,556.89 L102.60,555.49 L103.04,554.08 L103.48,552.68 L103.93,551.29 L104.39,549.89 L104.85,548.50 L105.32,547.11 L105.80,545.72 L106.28,544.33 L106.77,542.95 L107.27,541.56 L107.77,540.18 L108.28,538.81 L108.80,537.43 L109.32,536.06 L109.85,534.68 L110.39,533.31 L110.93,531.94 L111.47,530.58 L112.03,529.21 L112.58,527.85 L113.15,526.48 L113.72,525.12 L114.29,523.76 L114.87,522.41 L115.46,521.05 L116.05,519.69 L116.65,518.34 L117.25,516.99 L117.85,515.64 L118.46,514.29 L119.08,512.94 L119.70,511.59 L120.33,510.24 L120.96,508.89 L121.59,507.55 L122.23,506.20 L122.87,504.86 L123.52,503.52 L124.17,502.18 L124.83,500.83 L125.49,499.49 L126.15,498.15 L126.82,496.81 L127.49,495.47 L128.17,494.13 L128.85,492.80 L129.54,491.46 L130.23,490.13 L130.92,488.80 L131.63,487.48 L132.34,486.16 L133.06,484.84 L133.78,483.53 L134.51,482.23 L135.26,480.93 L136.01,479.64 L136.77,478.36 L137.54,477.08 L138.32,475.82 L139.11,474.56 L139.91,473.32 L140.72,472.08 L141.55,470.86 L142.38,469.64 L143.23,468.44 L144.10,467.26 L144.97,466.08 L145.86,464.92 L146.77,463.77 L147.69,462.64 L148.62,461.53 L149.57,460.43 L150.54,459.35 L151.52,458.28 L152.53,457.23 L153.54,456.20 L154.58,455.19 L155.63,454.20 L156.71,453.23 L157.80,452.28 L158.91,451.35 L160.04,450.45 L161.19,449.56 L162.37,448.70 L163.56,447.86 L164.77,447.05 L166.01,446.25 L167.26,445.49 L168.53,444.74 L169.82,444.02 L171.12,443.32 L172.45,442.65 L173.78,441.99 L175.13,441.37 L176.49,440.76 L177.87,440.18 L179.26,439.62 L180.66,439.09 L182.06,438.58 L183.48,438.09 L184.91,437.63 L186.35,437.19 L187.79,436.77 L189.24,436.38 L190.69,436.01 L192.15,435.66 L193.61,435.34 L195.08,435.04 L196.55,434.77 L198.02,434.52 L199.50,434.29 L200.97,434.08 L202.45,433.90 L203.92,433.74 L205.40,433.60 L206.88,433.48 L208.36,433.39 L209.84,433.32 L211.32,433.26 L212.80,433.23 L214.28,433.22 L215.76,433.23 L217.24,433.26 L218.72,433.31 L220.20,433.38 L221.67,433.46 L223.15,433.57 L224.62,433.69 L226.09,433.84 L227.56,434.00 L229.03,434.18 L230.50,434.37 L231.96,434.59 L233.42,434.82 L234.88,435.07 L236.34,435.33 L237.79,435.61 L239.24,435.91 L240.68,436.22 L242.12,436.54 L243.56,436.88 L245.00,437.24 L246.43,437.61 L247.86,437.99 L249.28,438.38 L250.71,438.78 L252.13,439.19 L253.55,439.61 L254.97,440.04 L256.38,440.47 L257.80,440.91 L259.21,441.36 L260.62,441.81 L262.03,442.27 L263.44,442.73 L264.86,443.19 L266.27,443.66 L267.67,444.13 L269.08,444.60 L270.50,445.06 L271.91,445.53 L273.32,445.99 L274.73,446.46 L276.14,446.91 L277.56,447.37 L278.97,447.82 L280.39,448.26 L281.81,448.70 L283.23,449.13 L284.65,449.55 L286.08,449.97 L287.51,450.37 L288.94,450.77 L290.37,451.15 L291.81,451.53 L293.24,451.89 L294.68,452.24 L296.12,452.57 L297.56,452.90 L299.01,453.21 L300.45,453.50 L301.90,453.78 L303.34,454.05 L304.79,454.29 L306.24,454.52 L307.69,454.74 L309.14,454.93 L310.59,455.11 L312.05,455.26 L313.50,455.40 L314.95,455.52 L316.40,455.61 L317.86,455.69 L319.31,455.74 L320.77,455.77 L322.22,455.77 L323.67,455.75 L325.13,455.71 L326.58,455.64 L328.03,455.55 L329.48,455.43 L330.93,455.28 L332.38,455.11 L333.83,454.91 L335.28,454.69 L336.73,454.45 L338.18,454.19 L339.62,453.91 L341.07,453.61 L342.51,453.30 L343.96,452.98 L345.41,452.64 L346.85,452.29 L348.30,451.93 L349.74,451.56 L351.19,451.19 L352.63,450.81 L354.07,450.43 L355.52,450.05 L356.96,449.66 L358.41,449.28 L359.85,448.90 L361.30,448.52 L362.74,448.15 L364.19,447.79 L365.63,447.43 L367.08,447.07 L368.52,446.73 L369.97,446.38 L371.42,446.05 L372.86,445.71 L374.31,445.38 L375.76,445.06 L377.21,444.74 L378.65,444.42 L380.10,444.11 L381.55,443.79 L383.00,443.48 L384.45,443.18 L385.90,442.87 L387.35,442.56 L388.79,442.26 L390.24,441.96 L391.69,441.66 L393.14,441.36 L394.59,441.06 L396.05,440.76 L397.50,440.47 L398.95,440.17 L400.40,439.88 L401.85,439.59 L403.30,439.30 L404.75,439.01 L406.21,438.72 L407.66,438.44 L409.11,438.15 L410.56,437.87 L412.02,437.59 L413.47,437.31 L414.92,437.03 L416.38,436.75 L417.83,436.47 L419.29,436.20 L420.74,435.93 L422.20,435.65 L423.65,435.38 L425.11,435.11 L426.56,434.84 L428.02,434.58 L429.47,434.31 L430.93,434.05 L432.38,433.78 L433.84,433.52 L435.30,433.26 L436.75,433.00 L438.21,432.74 L439.67,432.49 L441.12,432.23 L442.58,431.97 L444.04,431.72 L445.50,431.47 L446.96,431.22 L448.41,430.97 L449.87,430.72 L451.33,430.47 L452.79,430.23 L454.25,429.98 L455.71,429.74 L457.17,429.50 L458.63,429.26 L460.09,429.02 L461.55,428.78 L463.01,428.54 L464.47,428.31 L465.93,428.07 L467.39,427.84 L468.85,427.60 L470.31,427.37 L471.77,427.14 L473.23,426.91 L474.70,426.69 L476.16,426.46 L477.62,426.23 L479.08,426.01 L480.55,425.79 L482.01,425.56 L483.47,425.34 L484.93,425.12 L486.40,424.90 L487.86,424.69 L489.32,424.47 L490.79,424.25 L492.25,424.04 L493.71,423.83 L495.18,423.61 L496.64,423.40 L498.11,423.19 L499.57,422.98 L501.04,422.78 L502.50,422.57 L503.97,422.36 L505.43,422.16 L506.90,421.96 L508.36,421.75 L509.83,421.55 L511.29,421.35 L512.76,421.15 L514.23,420.95 L515.69,420.76 L517.16,420.56 L518.63,420.37 L520.09,420.17 L521.56,419.98 L523.03,419.79 L524.49,419.60 L525.96,419.41 L527.43,419.22 L528.90,419.03 L530.36,418.84 L531.83,418.66 L533.30,418.47 L534.77,418.29 L536.24,418.10 L537.70,417.92 L539.17,417.74 L540.64,417.56 L542.11,417.38 L543.58,417.20 L545.05,417.02 L546.52,416.85 L547.99,416.67 L549.46,416.50 L550.93,416.32 L552.39,416.15 L553.86,415.98 L555.33,415.81 L556.80,415.64 L558.27,415.47 L559.74,415.30 L561.22,415.13 L562.69,414.97 L564.16,414.80 L565.63,414.64 L567.10,414.47 L568.57,414.31 L570.04,414.15 L571.51,413.99 L572.98,413.83 L574.45,413.67 L575.93,413.51 L577.40,413.35 L578.87,413.20 L580.34,413.04 L581.81,412.89 L583.29,412.73 L584.76,412.58 L586.23,412.42 L587.70,412.27 L589.17,412.12 L590.65,411.97 L592.12,411.82 L593.59,411.67 L595.07,411.53 L596.54,411.38 L598.01,411.23 L599.48,411.09 L600.96,410.94 L602.43,410.80 L603.90,410.66 L605.38,410.51 L606.85,410.37 L608.32,410.23 L609.80,410.09 L611.27,409.95 L612.75,409.81 L614.22,409.68 L615.69,409.54 L617.17,409.40 L618.64,409.27 L620.12,409.13 L621.59,409.00 L623.07,408.87 L624.54,408.73 L626.02,408.60 L627.49,408.47 L628.96,408.34 L630.44,408.21 L631.91,408.08 L633.39,407.95 L634.86,407.82 L636.34,407.70 L637.81,407.57 L639.29,407.45 L640.77,407.32 L642.24,407.20 L643.72,407.07 L645.19,406.95 L646.67,406.83 L648.14,406.71 L649.62,406.58 L651.09,406.46 L652.57,406.34 L654.05,406.22 L655.52,406.11 L657.00,405.99 L658.47,405.87 L659.95,405.75 L661.43,405.64 L662.90,405.52 L664.38,405.41 L665.85,405.29 L667.33,405.18 L668.81,405.06 L670.28,404.95 L671.76,404.84 L673.24,404.73 L674.71,404.62 L676.19,404.51 L677.67,404.40 L679.14,404.29 L680.62,404.18 L682.10,404.07 L683.57,403.96 L685.05,403.86 L686.53,403.75 L688.00,403.64 L689.48,403.54 L690.96,403.43 L692.43,403.33 L693.91,403.22 L695.39,403.12 L696.86,403.02 L698.34,402.92 L699.82,402.81 L701.29,402.71 L702.77,402.61 L704.25,402.51 L705.73,402.41 L707.20,402.31 L708.68,402.21 L710.16,402.11 L711.63,402.01 L713.11,401.92 L714.59,401.82 L716.07,401.72 L717.54,401.63 L719.02,401.53 L720.50,401.43 L721.97,401.34 L723.45,401.24 L724.93,401.15 L726.41,401.05 L727.88,400.96 L729.36,400.87 L730.84,400.78 L732.31,400.68 L733.79,400.59 L735.27,400.50 L736.75,400.41 L738.22,400.32 L739.70,400.23 L741.18,400.14 L742.66,400.05 L744.13,399.96 L745.61,399.87 L747.09,399.78 L748.56,399.69 L750.04,399.60 L751.52,399.52 L753.00,399.43 L754.47,399.34 L755.95,399.25 L757.43,399.17 L758.90,399.08 L760.38,399.00 L761.86,398.91 L763.34,398.83 L764.81,398.74 L766.29,398.66 L767.77,398.57 L769.24,398.49 L770.72,398.40 L772.20,398.32 L773.67,398.24 L775.15,398.16 L776.63,398.07 L778.10,397.99 L779.58,397.91 L781.06,397.83 L782.53,397.74 L784.01,397.66 L785.49,397.58 L786.96,397.50 L788.44,397.42 L789.92,397.34 L791.39,397.26 L792.87,397.18 L794.35,397.10 L795.82,397.02 L797.30,396.94 L798.77,396.86 L800.25,396.78 L801.73,396.70 L803.20,396.63 L804.68,396.55 L806.15,396.47 L807.63,396.39 L809.11,396.31 L810.58,396.24 L812.06,396.16 L813.53,396.08 L815.01,396.00 L816.49,395.93 L817.96,395.85"/>
</g>
<rect x="86.00" y="11.00" width="794.20" height="640.20" fill="none" stroke="#000" stroke-width="2.5"/>
<path d="M152.18,651.20V645.20M152.18,11.00V17.00M218.37,651.20V639.20M218.37,11.00V23.00M284.55,651.20V645.20M284.55,11.00V17.00M350.73,651.20V639.20M350.73,11.00V23.00M416.92,651.20V645.20M416.92,11.00V17.00M483.10,651.20V639.20M483.10,11.00V23.00M549.28,651.20V645.20M549.28,11.00V17.00M615.47,651.20V639.20M615.47,11.00V23.00M681.65,651.20V645.20M681.65,11.00V17.00M747.83,651.20V639.20M747.83,11.00V23.00M814.02,651.20V645.20M814.02,11.00V17.00M86.00,597.85H92.00M880.20,597.85H874.20M86.00,544.50H98.00M880.20,544.50H868.20M86.00,491.15H92.00M880.20,491.15H874.20M86.00,437.80H98.00M880.20,437.80H868.20M86.00,384.45H92.00M880.20,384.45H874.20M86.00,331.10H98.00M880.20,331.10H868.20M86.00,277.75H92.00M880.20,277.75H874.20M86.00,224.40H98.00M880.20,224.40H868.20M86.00,171.05H92.00M880.20,171.05H874.20M86.00,117.70H98.00M880.20,117.70H868.20M86.00,64.35H92.00M880.20,64.35H874.20" stroke="#000" stroke-width="2.2" fill="none"/>
<g font-family="Liberation Serif, serif" stroke="#fff" stroke-width="0.3" font-size="29" fill="#000"><text x="86.00" y="688.2" text-anchor="middle" textLength="13.6" lengthAdjust="spacingAndGlyphs">0</text><text x="218.37" y="688.2" text-anchor="middle" textLength="13.6" lengthAdjust="spacingAndGlyphs">1</text><text x="350.73" y="688.2" text-anchor="middle" textLength="13.6" lengthAdjust="spacingAndGlyphs">2</text><text x="483.10" y="688.2" text-anchor="middle" textLength="13.6" lengthAdjust="spacingAndGlyphs">3</text><text x="615.47" y="688.2" text-anchor="middle" textLength="13.6" lengthAdjust="spacingAndGlyphs">4</text><text x="747.83" y="688.2" text-anchor="middle" textLength="13.6" lengthAdjust="spacingAndGlyphs">5</text><text x="880.20" y="688.2" text-anchor="middle" textLength="13.6" lengthAdjust="spacingAndGlyphs">6</text><text x="72.3" y="662.10" text-anchor="end" textLength="13.6" lengthAdjust="spacingAndGlyphs">0</text><text x="72.3" y="555.40" text-anchor="end" textLength="27.2" lengthAdjust="spacingAndGlyphs">50</text><text x="72.3" y="448.70" text-anchor="end" textLength="40.8" lengthAdjust="spacingAndGlyphs">100</text><text x="72.3" y="342.00" text-anchor="end" textLength="40.8" lengthAdjust="spacingAndGlyphs">150</text><text x="72.3" y="235.30" text-anchor="end" textLength="40.8" lengthAdjust="spacingAndGlyphs">200</text><text x="72.3" y="128.60" text-anchor="end" textLength="40.8" lengthAdjust="spacingAndGlyphs">250</text><text x="72.3" y="21.90" text-anchor="end" textLength="40.8" lengthAdjust="spacingAndGlyphs">300</text></g>
<g font-family="Liberation Serif, serif" stroke="#fff" stroke-width="0.3" font-size="28.6" fill="#000">
<text x="126.7" y="59.2" xml:space="preserve" textLength="217" lengthAdjust="spacingAndGlyphs">0.3%  Fiber content</text>
<text x="120" y="97" textLength="209.6" lengthAdjust="spacingAndGlyphs">30mm Fiber length</text>
<text x="372.5" y="475.4" textLength="275.5" lengthAdjust="spacingAndGlyphs">Confining pressure(kPa):</text>
<text x="481.5" y="628.7" textLength="377" lengthAdjust="spacingAndGlyphs">Modified Duncan-Chang model fit</text>
</g>
<g font-family="Liberation Serif, serif" stroke="#fff" stroke-width="0.3" font-size="27" fill="#000">
<text x="630.3" y="507.1" text-anchor="end" textLength="26.2" lengthAdjust="spacingAndGlyphs">50</text>
<text x="630.3" y="537.4" text-anchor="end" textLength="39.2" lengthAdjust="spacingAndGlyphs">100</text>
<text x="630.3" y="567.5" text-anchor="end" textLength="39.2" lengthAdjust="spacingAndGlyphs">150</text>
<text x="630.3" y="597.2" text-anchor="end" textLength="39.2" lengthAdjust="spacingAndGlyphs">200</text>
</g>
<text x="391" y="709.2" font-family="Liberation Serif, serif" stroke="#fff" stroke-width="0.3" font-size="34" textLength="204.4" lengthAdjust="spacingAndGlyphs">Axial strain(%)</text>
<text transform="translate(29.2,465.2) rotate(-90)" x="0" y="0" font-family="Liberation Serif, serif" stroke="#fff" stroke-width="0.3" font-size="33" textLength="269.7" lengthAdjust="spacingAndGlyphs">Deviator stress(kPa)</text>
<g fill="#000"><rect x="434.20" y="491.60" width="12.0" height="12.0"/></g>
<g fill="#00ffff"><circle cx="440.40" cy="527.80" r="6.6"/></g>
<g fill="#0000ff"><polygon points="440.50,547.80 448.50,562.80 432.50,562.80"/></g>
<g fill="#ff0000"><polygon points="440.50,578.90 442.62,584.38 448.49,584.70 443.94,588.42 445.44,594.10 440.50,590.91 435.56,594.10 437.06,588.42 432.51,584.70 438.38,584.38"/></g>
<path d="M412,618.7H469" stroke="#000" stroke-width="3"/>
</svg>
</body></html>
